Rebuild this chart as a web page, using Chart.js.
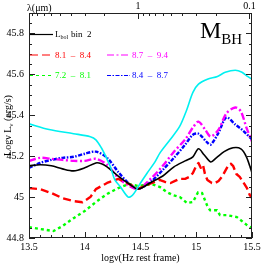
<!DOCTYPE html>
<html>
<head>
<meta charset="utf-8">
<script src="https://cdn.jsdelivr.net/npm/chart.js@4.4.0/dist/chart.umd.min.js"></script>
<style>
  html, body { margin: 0; padding: 0; background: #fff; }
  #wrap { width: 266px; height: 266px; }
</style>
</head>
<body>
<div id="wrap"><canvas id="sedChart" width="266" height="266"></canvas></div>
<script>
// mean SEDs: log nu (Hz, rest frame) and log nuLnu (erg/s)
const cyanNu  = [13.5, 13.68, 13.9, 14.05, 14.1, 14.15, 14.19, 14.23, 14.27, 14.32, 14.39, 14.43, 14.5, 14.56, 14.63, 14.675, 14.765, 14.85, 14.91, 14.97, 15.02, 15.1, 15.19, 15.26, 15.35, 15.41, 15.46, 15.5];
const cyanLum = [45.358, 45.33, 45.31, 45.295, 45.28, 45.24, 45.197, 45.148, 45.084, 45.05, 45.0, 45.01, 45.069, 45.118, 45.172, 45.216, 45.28, 45.344, 45.42, 45.512, 45.552, 45.576, 45.59, 45.61, 45.62, 45.61, 45.59, 45.576];

const lbolNu  = [13.5, 13.6, 13.7, 13.8, 13.9, 14.0, 14.1, 14.15, 14.2, 14.3, 14.4, 14.48, 14.6, 14.7, 14.8, 14.9, 14.97, 15.02, 15.07, 15.13, 15.18, 15.25, 15.33, 15.4, 15.45, 15.5];
const lbolLum = [45.153, 45.158, 45.153, 45.138, 45.128, 45.143, 45.167, 45.163, 45.148, 45.103, 45.064, 45.04, 45.074, 45.103, 45.148, 45.177, 45.197, 45.236, 45.207, 45.172, 45.192, 45.222, 45.241, 45.236, 45.197, 45.118];

const redNu  = [13.5, 13.6, 13.7, 13.8, 13.9, 13.98, 14.05, 14.1, 14.2, 14.3, 14.38, 14.48, 14.58, 14.67, 14.72, 14.77, 14.81, 14.85, 14.9, 14.94, 14.97, 15.0, 15.02, 15.04, 15.06, 15.08, 15.1, 15.14, 15.17, 15.2, 15.23, 15.26, 15.29, 15.31, 15.33, 15.36, 15.39, 15.42, 15.455, 15.48, 15.5];
const redLum = [45.044, 45.039, 45.02, 44.995, 44.98, 44.975, 45.0, 45.039, 45.069, 45.089, 45.069, 45.04, 45.064, 45.084, 45.074, 45.069, 45.079, 45.089, 45.089, 45.099, 45.118, 45.153, 45.167, 45.143, 45.158, 45.108, 45.084, 45.069, 45.069, 45.079, 45.099, 45.128, 45.158, 45.163, 45.153, 45.113, 45.099, 45.074, 45.044, 45.01, 44.995];

const greenNu  = [13.5, 13.6, 13.72, 13.8, 13.9, 14.0, 14.1, 14.2, 14.3, 14.4, 14.48, 14.55, 14.62, 14.675, 14.738, 14.79, 14.854, 14.917, 14.971, 15.016, 15.052, 15.096, 15.123, 15.186, 15.213, 15.276, 15.365, 15.455, 15.5];
const greenLum = [44.853, 44.844, 44.834, 44.858, 44.897, 44.932, 44.976, 45.015, 45.044, 45.064, 45.054, 45.06, 45.06, 45.049, 45.024, 45.01, 45.0, 44.971, 44.976, 45.024, 45.02, 44.961, 44.936, 44.936, 44.912, 44.912, 44.902, 44.863, 44.848];

const magentaNu  = [13.5, 13.6, 13.7, 13.8, 13.9, 14.0, 14.1, 14.2, 14.3, 14.4, 14.48, 14.6, 14.7, 14.8, 14.9, 14.97, 15.02, 15.08, 15.13, 15.2, 15.27, 15.35, 15.4, 15.45, 15.5];
const magentaLum = [45.177, 45.192, 45.187, 45.182, 45.177, 45.177, 45.187, 45.158, 45.094, 45.054, 45.04, 45.094, 45.153, 45.222, 45.281, 45.34, 45.369, 45.33, 45.296, 45.33, 45.409, 45.438, 45.419, 45.34, 45.271];

const blueNu  = [13.5, 13.6, 13.7, 13.8, 13.9, 14.0, 14.1, 14.2, 14.3, 14.4, 14.48, 14.6, 14.7, 14.8, 14.9, 14.97, 15.02, 15.1, 15.13, 15.2, 15.27, 15.35, 15.42, 15.5];
const blueLum = [45.143, 45.167, 45.182, 45.192, 45.197, 45.212, 45.222, 45.192, 45.123, 45.064, 45.04, 45.079, 45.133, 45.192, 45.256, 45.305, 45.31, 45.266, 45.256, 45.315, 45.389, 45.355, 45.325, 45.281];

const yTicks = [44.8, 45, 45.2, 45.4, 45.6, 45.8];
const xTicks = [13.5, 14, 14.5, 15, 15.5];
const lambdaMajor = [1, 0.1];                 // micron, labelled on top axis
const lambdaMinor = [2, 3, 4, 5, 6, 7, 8, 9, 0.2, 0.3, 0.4, 0.5, 0.6, 0.7, 0.8, 0.9];
const massBins = ['8.1  \u2013  8.4', '7.2  \u2013  8.1', '8.7  \u2013  9.4', '8.4  \u2013  8.7'];

const FONT = 'Liberation Serif';
const nuFromLambda = (l) => Math.log10(2.998e14 / l);
const pts = (nu, lum) => nu.map((v, i) => ({ x: v, y: lum[i] }));

// frame, inward ticks, legend and labels
const sedDecor = {
    id: 'sedDecor',
    afterDraw(chart) {
        const { ctx, chartArea: a, scales } = chart;
        const sx = scales.x, sy = scales.y;
        ctx.save();
        ctx.strokeStyle = '#222';
        ctx.lineWidth = 1;
        ctx.setLineDash([]);
        ctx.strokeRect(a.left + 0.5, a.top + 0.5, a.right - a.left - 1, a.bottom - a.top - 1);

        ctx.beginPath();
        // y ticks, both sides
        for (let v = 44.8; v <= 45.9 + 1e-9; v += 0.05) {
            const major = yTicks.some((t) => Math.abs(t - v) < 1e-6);
            const len = major ? 6 : 3;
            const py = Math.round(sy.getPixelForValue(v)) + 0.5;
            ctx.moveTo(a.left, py); ctx.lineTo(a.left + len, py);
            ctx.moveTo(a.right, py); ctx.lineTo(a.right - len, py);
        }
        // bottom ticks
        for (let v = 13.5; v <= 15.5 + 1e-9; v += 0.1) {
            const major = xTicks.some((t) => Math.abs(t - v) < 1e-6);
            const len = major ? 6 : 3;
            const px = Math.round(sx.getPixelForValue(v)) + 0.5;
            ctx.moveTo(px, a.bottom); ctx.lineTo(px, a.bottom - len);
        }
        // top (wavelength) ticks
        lambdaMajor.concat(lambdaMinor).forEach((l) => {
            const nu = nuFromLambda(l);
            if (nu < 13.5 || nu > 15.5) return;
            const len = lambdaMajor.includes(l) ? 6 : 3;
            const px = Math.round(sx.getPixelForValue(nu)) + 0.5;
            ctx.moveTo(px, a.top); ctx.lineTo(px, a.top + len);
        });
        ctx.stroke();

        ctx.fillStyle = '#000';
        ctx.textBaseline = 'alphabetic';
        ctx.textAlign = 'left';
        ctx.font = '10px "' + FONT + '"';
        ctx.fillText('\u03bb(\u03bcm)', a.left - 2, a.top - 2);

        // y axis title, rotated
        ctx.save();
        ctx.translate(11, (a.top + a.bottom) / 2);
        ctx.rotate(-Math.PI / 2);
        const p1 = 'Log\u03bd L', p2 = '\u03bd', p3 = ' (erg/s)';
        ctx.font = '10px "' + FONT + '"';
        const w1 = ctx.measureText(p1).width, w3 = ctx.measureText(p3).width;
        ctx.font = '7px "' + FONT + '"';
        const w2 = ctx.measureText(p2).width;
        let tx = -(w1 + w2 + w3) / 2;
        ctx.font = '10px "' + FONT + '"';
        ctx.fillText(p1, tx, 0); tx += w1;
        ctx.font = '7px "' + FONT + '"';
        ctx.fillText(p2, tx, 2); tx += w2;
        ctx.font = '10px "' + FONT + '"';
        ctx.fillText(p3, tx, 0);
        ctx.restore();

        // M_BH
        ctx.font = '24px "' + FONT + '"';
        ctx.fillText('M', a.right - 52, a.top + 25);
        const mw = ctx.measureText('M').width;
        ctx.font = '15px "' + FONT + '"';
        ctx.fillText('BH', a.right - 52 + mw, a.top + 31);

        // legend
        const ds = chart.data.datasets;
        const rows = [
            { idx: 1, x: a.left + 1, y: a.top + 21 },
            { idx: 2, x: a.left + 1, y: a.top + 41.5 },
            { idx: 3, x: a.left + 1, y: a.top + 62 },
            { idx: 4, x: a.left + 78, y: a.top + 41.5 },
            { idx: 5, x: a.left + 78, y: a.top + 62 },
        ];
        rows.forEach((r) => {
            const d = ds[r.idx];
            ctx.strokeStyle = d.borderColor;
            ctx.lineWidth = 1.2;
            ctx.setLineDash(d.borderDash || []);
            ctx.beginPath();
            ctx.moveTo(r.x, r.y + 0.5);
            ctx.lineTo(r.x + 23, r.y + 0.5);
            ctx.stroke();
            ctx.setLineDash([]);
            ctx.fillStyle = d.borderColor;
            const tx0 = r.x + 25;
            if (r.idx === 1) {
                ctx.font = '9px "' + FONT + '"';
                ctx.fillText('L', tx0, r.y + 3);
                const lw = ctx.measureText('L').width;
                ctx.font = '6px "' + FONT + '"';
                ctx.fillText('bol', tx0 + lw, r.y + 5);
                ctx.font = '9px "' + FONT + '"';
                ctx.fillText('bin  2', tx0 + 16, r.y + 3);
            } else {
                ctx.font = '9px "' + FONT + '"';
                ctx.fillText(d.label, tx0, r.y + 3);
            }
        });
        ctx.restore();
    },
};

const lineBase = { pointRadius: 0, fill: false, borderJoinStyle: 'round' };

new Chart(document.getElementById('sedChart'), {
    type: 'line',
    data: {
        datasets: [
            { ...lineBase, label: 'cyan', data: pts(cyanNu, cyanLum), borderColor: '#00f0f0', borderWidth: 1.6, tension: 0.3 },
            { ...lineBase, label: 'L_bol bin 2', data: pts(lbolNu, lbolLum), borderColor: '#000000', borderWidth: 1.6, tension: 0.3 },
            { ...lineBase, label: massBins[0], data: pts(redNu, redLum), borderColor: '#ff0000', borderWidth: 2.4, borderDash: [8, 4], tension: 0 },
            { ...lineBase, label: massBins[1], data: pts(greenNu, greenLum), borderColor: '#00ff00', borderWidth: 2.4, borderDash: [3, 3], tension: 0 },
            { ...lineBase, label: massBins[2], data: pts(magentaNu, magentaLum), borderColor: '#ff00ff', borderWidth: 2.4, borderDash: [7, 2.5, 2, 2.5], tension: 0.3 },
            { ...lineBase, label: massBins[3], data: pts(blueNu, blueLum), borderColor: '#0000ff', borderWidth: 2.4, borderDash: [4, 1.5, 1.5, 1.5], tension: 0.3 },
        ],
    },
    options: {
        responsive: false,
        animation: false,
        devicePixelRatio: 1,
        layout: { padding: { left: 0, right: 14, top: 0, bottom: 0 } },
        plugins: { legend: { display: false }, tooltip: { enabled: false } },
        scales: {
            x: {
                type: 'linear',
                position: 'bottom',
                min: 13.5,
                max: 15.5,
                afterBuildTicks: (s) => { s.ticks = xTicks.map((v) => ({ value: v })); },
                afterFit: (s) => { s.height = 28; },
                grid: { display: false, drawTicks: false },
                border: { display: false },
                ticks: {
                    autoSkip: false,
                    maxRotation: 0,
                    padding: 3,
                    color: '#000',
                    font: { family: FONT, size: 10 },
                    callback: (v) => String(v),
                },
                title: {
                    display: true,
                    text: 'log\u03bd(Hz rest frame)',
                    color: '#000',
                    font: { family: FONT, size: 10 },
                    padding: { top: 0, bottom: 2 },
                },
            },
            xTop: {
                type: 'linear',
                axis: 'x',
                position: 'top',
                min: 13.5,
                max: 15.5,
                afterBuildTicks: (s) => { s.ticks = lambdaMajor.map((l) => ({ value: nuFromLambda(l) })); },
                afterFit: (s) => { s.height = 13; },
                grid: { display: false, drawTicks: false },
                border: { display: false },
                ticks: {
                    autoSkip: false,
                    maxRotation: 0,
                    padding: 1,
                    color: '#000',
                    font: { family: FONT, size: 10 },
                    callback: (v, i) => String(lambdaMajor[i]),
                },
            },
            y: {
                type: 'linear',
                position: 'left',
                min: 44.8,
                max: 45.9,
                afterBuildTicks: (s) => { s.ticks = yTicks.map((v) => ({ value: v })); },
                afterFit: (s) => { s.width = 29; },
                grid: { display: false, drawTicks: false },
                border: { display: false },
                ticks: {
                    autoSkip: false,
                    padding: 5,
                    color: '#000',
                    font: { family: FONT, size: 10 },
                    callback: (v) => String(+v.toFixed(1)),
                },
            },
        },
    },
    plugins: [sedDecor],
});
</script>
</body>
</html>
